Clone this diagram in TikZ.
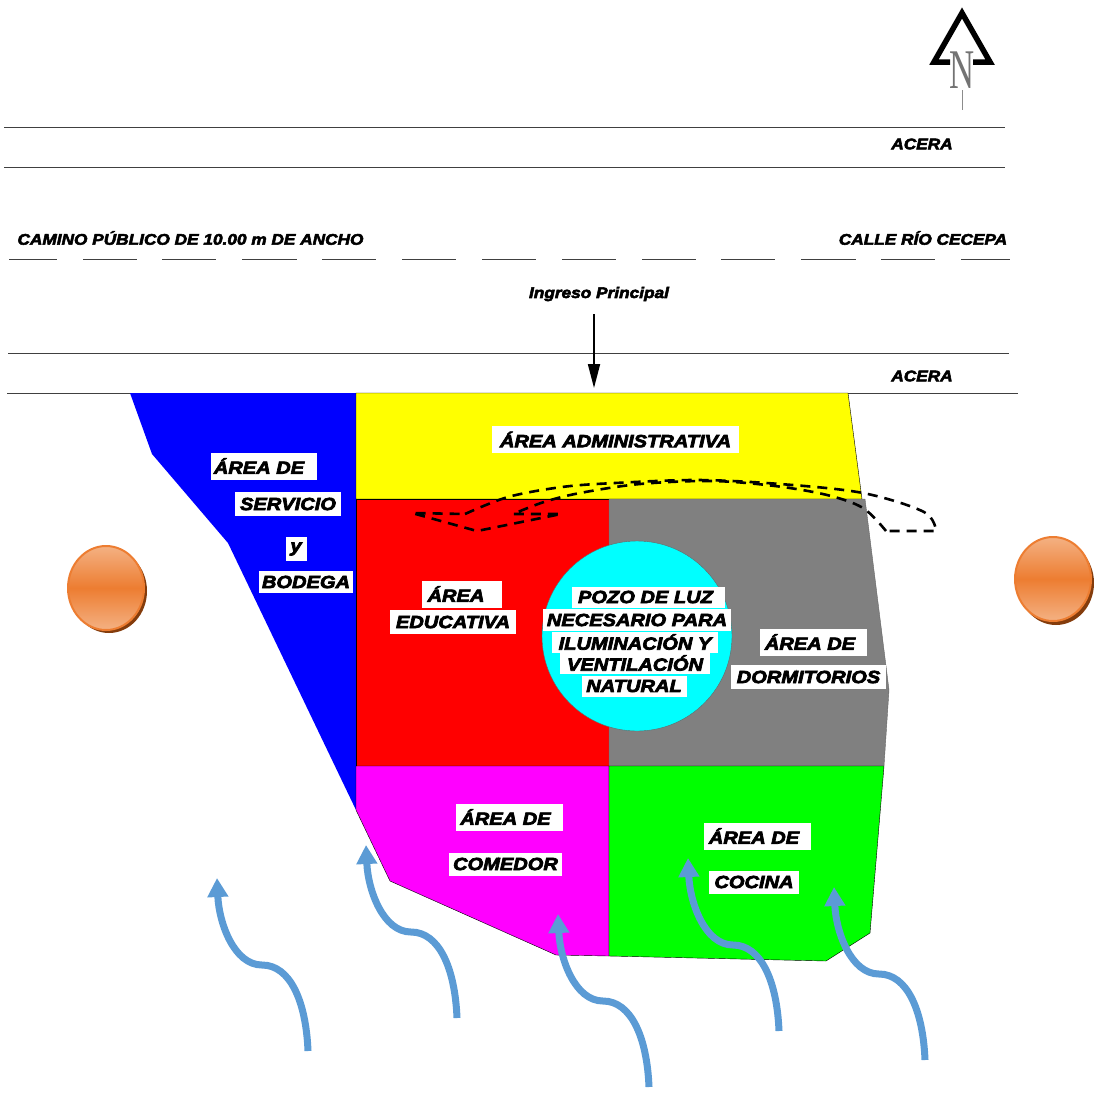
\documentclass[tikz,border=0pt]{standalone}
\usepackage{fontspec}
\usetikzlibrary{arrows.meta,shadings,shapes.geometric}
\newfontfamily\labfont[FakeBold=4,FakeStretch=1.14,ItalicFont={Liberation Sans Bold Italic},ItalicFeatures={FakeBold=4,FakeStretch=1.14}]{Liberation Sans Bold}
\newfontfamily\smallfont[FakeBold=3.5,FakeStretch=1.12,ItalicFont={Liberation Sans Bold Italic},ItalicFeatures={FakeBold=3.5,FakeStretch=1.12}]{Liberation Sans Bold}
\newfontfamily\nfont{Liberation Serif}
\definecolor{flowblue}{HTML}{5B9BD5}
\definecolor{orangeA}{HTML}{ED7D31}
\definecolor{orangeB}{HTML}{F4B183}
\definecolor{orangeC}{HTML}{843C0C}
\definecolor{zyellow}{RGB}{255,255,0}
\definecolor{zcyan}{RGB}{0,255,255}
\definecolor{zmagenta}{RGB}{255,0,255}
\definecolor{zred}{RGB}{255,0,0}
\definecolor{zgreen}{RGB}{0,255,0}
\definecolor{zblue}{RGB}{0,0,255}
\definecolor{zgray}{RGB}{128,128,128}
\tikzset{
  zone/.style={draw=black,line width=0.4pt},
  roadline/.style={draw=black!75,line width=0.6pt},
  roaddash/.style={draw=black!75,line width=0.6pt},
  lbl/.style={font=\labfont\itshape\fontsize{17.6}{18}\selectfont,inner sep=0pt,text=black},
  boxlbl/.style={lbl,fill=white},
  smalllbl/.style={font=\smallfont\itshape\fontsize{15.4}{16}\selectfont,inner sep=0pt,text=black},
  flow/.style={draw=flowblue,line width=7pt,-{Triangle[length=19pt,width=20pt]}},
  knob/.style={ellipse,minimum width=76pt,minimum height=84pt},
  skyline/.style={draw=black,line width=2.6pt,dash pattern=on 10pt off 7pt},
}
\begin{document}
\begin{tikzpicture}[x=1pt,y=-1pt]
\useasboundingbox (0,0) rectangle (1094,1093);
% road
\draw[roadline] (4,127) -- (1005,127);
\draw[roadline] (4,167) -- (1005,167);
\draw[roadline] (8,353) -- (1009,353);
\draw[roadline] (7,393) -- (1018,393);
\foreach \a/\b in {9/57,83/137,162/216,242/297,322/376,402/456,482/536,562/616,642/696,721/775,801/856,881/935,961/1010}
  \draw[roaddash] (\a,259) -- (\b,259);
% zones
\fill[zblue] (130,393) -- (356,393) -- (356,810) -- (228,543) -- (152,454) -- cycle;
\draw[zone,fill=zyellow] (356,393) -- (848,393) -- (862,499) -- (356,499) -- cycle;
\draw[zone,fill=zred] (356,499) -- (609,499) -- (609,766) -- (356,766) -- cycle;
\draw[zone,fill=zgray,draw=black!60] (609,499) -- (865,499) -- (889,690) -- (884,766) -- (609,766) -- cycle;
\draw[zone,fill=zmagenta] (356,766) -- (609,766) -- (609,956) -- (556,955) -- (390,881) -- (356,810) -- cycle;
\draw[zone,fill=zgreen] (609,766) -- (884,766) -- (870,933) -- (826,961) -- (609,956) -- cycle;
\draw[zone,fill=zcyan,draw=black!60] (637,636) circle[radius=95];
% dashed outline
\draw[skyline] plot[smooth,tension=0.55] coordinates {(465,514) (508,497) (562,487) (615,483) (698,480) (780,484) (863,493) (924,512) (936,531)}
  -- (886,531) plot[smooth,tension=0.55] coordinates {(886,531) (863,508) (827,495) (775,486) (712,481) (640,484) (580,493) (544,502) (513,514)}
  -- (561,514) -- (477,531) -- (412,513) -- (465,514);
% knobs
\node[knob,fill=orangeC] at (109,591) {};
\node[knob,draw=orangeA,line width=2pt,top color=orangeB,bottom color=orangeB,middle color=orangeA] (knobL) at (106,588) {};
\node[knob,fill=orangeC] at (1056,583) {};
\node[knob,draw=orangeA,line width=2pt,top color=orangeB,bottom color=orangeB,middle color=orangeA] (knobR) at (1053,579) {};
% north
\draw[black,line width=5.5pt,miter limit=10] (950,62) -- (934,62) -- (962,13) -- (990,62) -- (973,62);
\node[inner sep=0pt,text=black!55,font=\nfont\fontsize{56}{56}\selectfont,xscale=.62] (north) at (962,70) {N};
\coordinate (ntail) at (962,110);
\draw[black!45,line width=0.8pt] (962,90) -- (ntail);
% road labels
\node[smalllbl] (acera1) at (922,144) {ACERA};
\node[smalllbl] (acera2) at (922,376) {ACERA};
\node[smalllbl] (camino) at (190.5,238) {CAMINO PÚBLICO DE 10.00 m DE ANCHO};
\node[smalllbl] (calle) at (923,238) {CALLE RÍO CECEPA};
\node[smalllbl] (ingreso) at (599,294) {Ingreso Principal};
\coordinate (ingEnd) at (594,388);
\coordinate (ingStart) at (594,314);
\draw[black,line width=1.8pt,-{Triangle[length=24pt,width=12pt]}] (ingStart) -- (ingEnd);
% zone labels
\node[boxlbl,minimum width=247,minimum height=27] (admin) at (615.5,439.5) {ÁREA ADMINISTRATIVA};
\node[boxlbl,minimum width=106,minimum height=27] (serv1) at (264,466) {\hspace{-10pt}ÁREA DE};
\node[boxlbl,minimum width=106,minimum height=24] (serv2) at (288,504) {SERVICIO};
\node[boxlbl,minimum width=21,minimum height=24] (serv3) at (296,549) {y};
\node[boxlbl,minimum width=94,minimum height=22] (serv4) at (306,582) {BODEGA};
\node[boxlbl,minimum width=80,minimum height=27] (edu1) at (462,594) {\hspace{-12pt}ÁREA};
\node[boxlbl,minimum width=126,minimum height=24] (edu2) at (453,622) {EDUCATIVA};
\node[boxlbl,minimum width=153,minimum height=21] (pozo1) at (648.5,597) {\hspace{-6pt}POZO DE LUZ};
\node[boxlbl,minimum width=188,minimum height=22] (pozo2) at (637,620) {NECESARIO PARA};
\node[boxlbl,minimum width=166,minimum height=21] (pozo3) at (635,642) {ILUMINACIÓN Y};
\node[boxlbl,minimum width=150,minimum height=21] (pozo4) at (635,663) {VENTILACIÓN};
\node[boxlbl,minimum width=105,minimum height=21] (pozo5) at (634,686) {NATURAL};
\node[boxlbl,minimum width=107,minimum height=27] (dorm1) at (813.5,642) {\hspace{-7pt}ÁREA DE};
\node[boxlbl,minimum width=155,minimum height=24] (dorm2) at (808.5,677) {DORMITORIOS};
\node[boxlbl,minimum width=107,minimum height=27] (com1) at (509.5,817) {\hspace{-8pt}ÁREA DE};
\node[boxlbl,minimum width=113,minimum height=23] (com2) at (505.5,864) {COMEDOR};
\node[boxlbl,minimum width=107,minimum height=27] (coc1) at (757.5,836) {\hspace{-7pt}ÁREA DE};
\node[boxlbl,minimum width=90,minimum height=23] (coc2) at (754,882) {COCINA};
% flow arrows
\foreach \n/\x/\y in {1/308/1051,2/457/1018,3/649/1087,4/779/1031,5/925/1060}{
  \coordinate (f\n) at (\x,\y);
  \draw[flow] (f\n) .. controls +(-2,-50) and +(28,0) .. ++(-46,-86)
    .. controls +(-28,0) and +(2,45) .. ++(-45,-87);
}
\end{tikzpicture}
\end{document}
